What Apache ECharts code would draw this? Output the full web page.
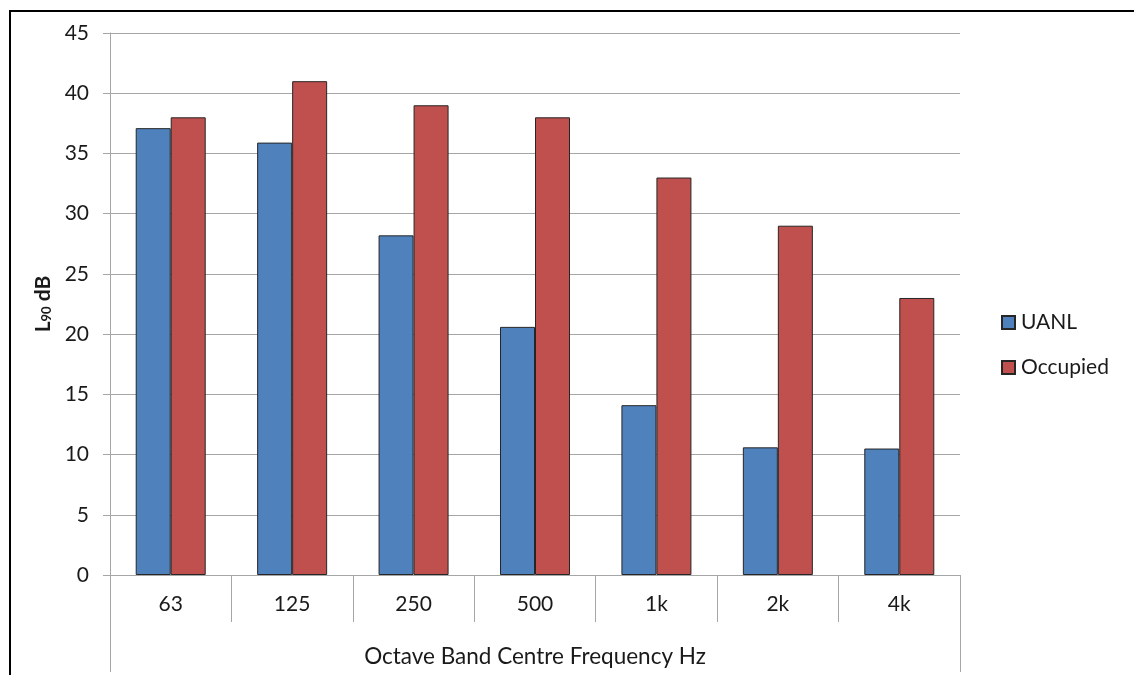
<!DOCTYPE html>
<html>
<head>
<meta charset="utf-8">
<script src="https://cdn.jsdelivr.net/npm/echarts@6/dist/echarts.min.js"></script>
<style>
html,body{margin:0;padding:0;background:#fff;}
#chart{width:1134px;height:675px;}
</style>
</head>
<body>
<div id="chart"></div>
<script>
const categories = ['63', '125', '250', '500', '1k', '2k', '4k'];
const uanl = [37.1, 35.9, 28.2, 20.6, 14.1, 10.6, 10.5];
const occupied = [38, 41, 39, 38, 33, 29, 23];
const yTicks = { min: 0, max: 45, interval: 5 };
const xTitle = 'Octave Band Centre Frequency Hz';

const FONT = 'Lato, "Open Sans", sans-serif';
const TXT = '#1a1a1a';
const GRID = '#a6a6a6';
const FS = 21;

const chart = echarts.init(document.getElementById('chart'), null, { renderer: 'canvas' });
chart.setOption({
  backgroundColor: '#ffffff',
  animation: false,
  textStyle: { fontFamily: FONT },
  grid: { left: 110, right: 174, top: 33, bottom: 100, containLabel: false },
  legend: {
    orient: 'vertical',
    left: 1001,
    top: 312,
    padding: 0,
    itemWidth: 13,
    itemHeight: 13,
    itemGap: 24,
    icon: 'rect',
    textStyle: { fontSize: FS, color: TXT, fontFamily: FONT, padding: [0, 0, 0, 1] },
    data: ['UANL', 'Occupied']
  },
  xAxis: [
    {
      type: 'category',
      data: categories,
      position: 'bottom',
      axisLine: { show: true, lineStyle: { color: GRID, width: 1 } },
      axisTick: { show: true, length: 47, interval: 0, lineStyle: { color: GRID, width: 1 } },
      axisLabel: { fontSize: FS, color: TXT, margin: 19, fontFamily: FONT },
      splitLine: { show: false }
    },
    {
      type: 'category',
      data: [xTitle],
      position: 'bottom',
      axisLine: { show: false },
      axisTick: { show: true, length: 97, interval: 0, lineStyle: { color: GRID, width: 1 } },
      axisLabel: { fontSize: 22.5, color: TXT, margin: 70, fontFamily: FONT },
      splitLine: { show: false }
    }
  ],
  yAxis: {
    type: 'value',
    min: yTicks.min,
    max: yTicks.max,
    interval: yTicks.interval,
    name: '{a|L}{b|90}{a| dB}',
    nameLocation: 'middle',
    nameGap: 52,
    nameRotate: 90,
    nameTextStyle: {
      rich: {
        a: { fontSize: 21, fontWeight: 'bold', color: TXT, fontFamily: FONT, lineHeight: 26, verticalAlign: 'bottom' },
        b: { fontSize: 13, fontWeight: 'bold', color: TXT, fontFamily: FONT, lineHeight: 26, verticalAlign: 'bottom', padding: [0, 0, 0, 0] }
      }
    },
    axisLine: { show: true, lineStyle: { color: GRID, width: 1 } },
    axisTick: { show: true, length: 7, lineStyle: { color: GRID, width: 1 } },
    axisLabel: { fontSize: FS, color: TXT, margin: 21, fontFamily: FONT },
    splitLine: { show: true, lineStyle: { color: GRID, width: 1 } }
  },
  series: [
    {
      name: 'UANL',
      type: 'bar',
      data: uanl,
      barWidth: 35,
      barGap: '0%',
      itemStyle: { color: '#4f81bd', borderColor: '#262626', borderWidth: 1 },
      xAxisIndex: 0
    },
    {
      name: 'Occupied',
      type: 'bar',
      data: occupied,
      barWidth: 35,
      barGap: '0%',
      itemStyle: { color: '#c0504d', borderColor: '#262626', borderWidth: 1 },
      xAxisIndex: 0
    }
  ],
  graphic: [
    { type: 'line', shape: { x1: 10, y1: 11, x2: 1134, y2: 11 }, style: { stroke: '#000', lineWidth: 2 }, silent: true },
    { type: 'line', shape: { x1: 10, y1: 10, x2: 10, y2: 675 }, style: { stroke: '#000', lineWidth: 2 }, silent: true }
  ]
});
</script>
</body>
</html>
